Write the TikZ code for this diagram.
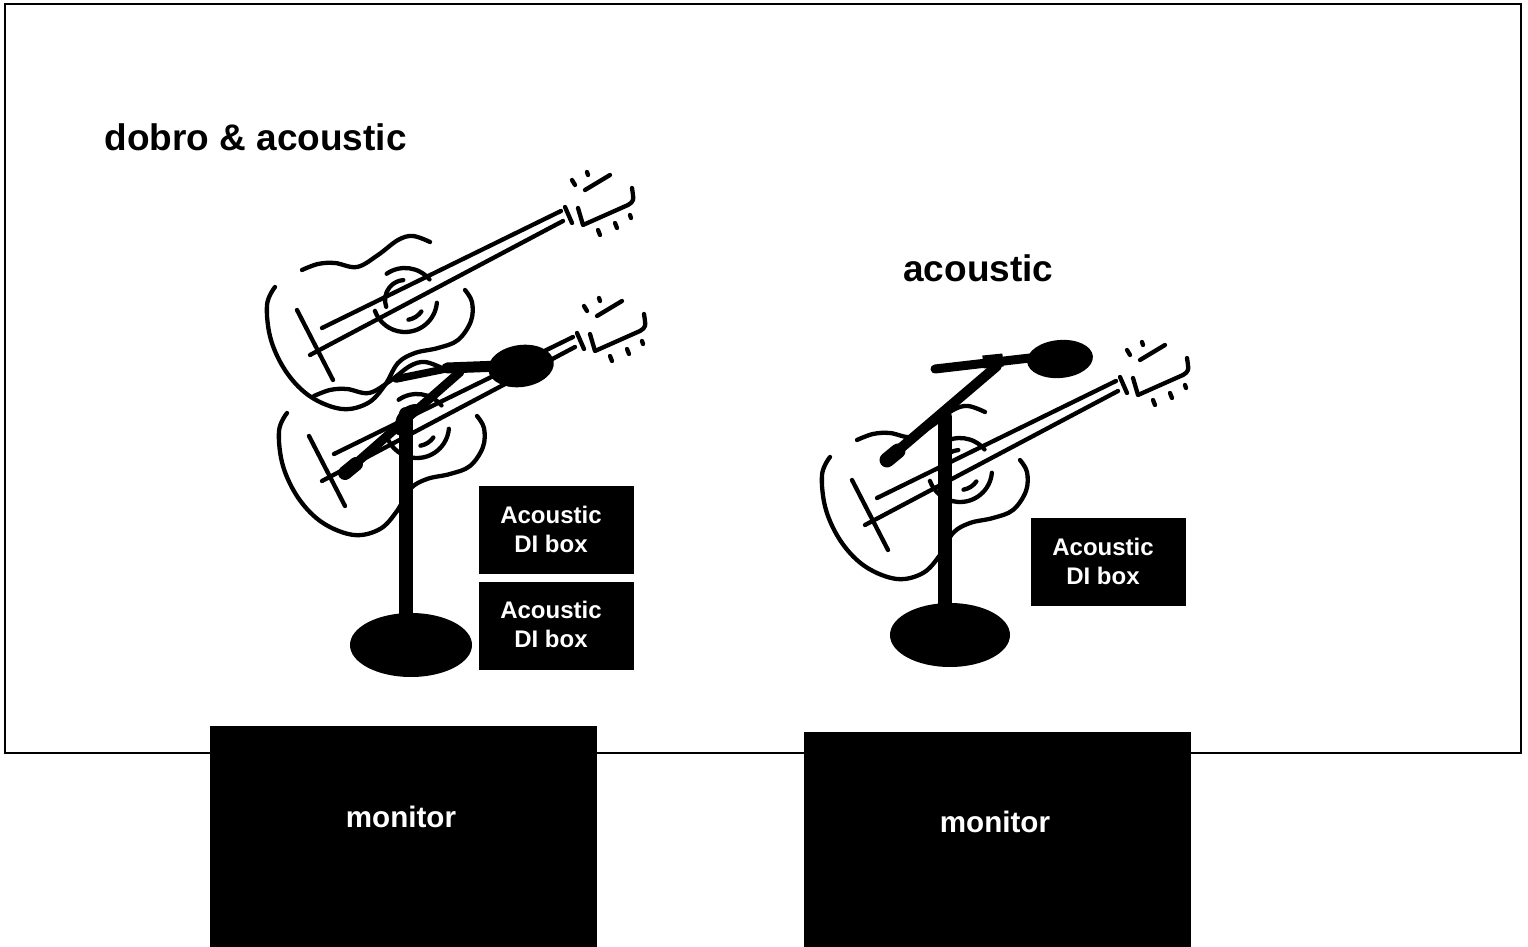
\documentclass[tikz,border=0pt]{standalone}
\usepackage{fontspec}
\setmainfont{Liberation Sans}
\tikzset{
  gline/.style={line width=2.15pt, line cap=round, line join=round},
  guitar/.pic={
    % body outline
    \draw[gline] plot[smooth, tension=0.6] coordinates {(275,287) (267,305) (271,340) (287,373) (311,397) (342,409) (368,403) (385,385) (398,363) (415,353) (438,348) (458,340) (471,321) (472,302) (465,290)};
    \draw[gline] plot[smooth, tension=0.6] coordinates {(302,270) (318,264) (335,263) (357,267) (378,255) (398,240) (413,236) (430,242)};
    % sound hole
    \draw[gline] (405,300) ++(235:32) arc[start angle=235, end angle=320, radius=32];
    \draw[gline] (405,300) ++(5:32) arc[start angle=5, end angle=160, radius=32];
    \draw[gline] (405,300) ++(160:20) arc[start angle=160, end angle=265, radius=20];
    \draw[gline] (405,300) ++(35:20) arc[start angle=35, end angle=80, radius=20];
    % neck
    \draw[gline] (322,328) -- (561,211);
    \draw[gline] (310,355) -- (563,221);
    % bridge
    \draw[gline] (297,310) -- (333,380);
    % nut and headstock
    \draw[gline] (565,207) -- (572,223);
    \draw[gline] (578,208) -- (583,225) -- (628,205) .. controls (634,201) .. (632,188);
    % tuning pegs
    \draw[gline] (587,172) -- (588,175);
    \draw[gline] (572,180) -- (575,185);
    \draw[gline] (585,190) -- (610,175);
    \draw[gline] (598,230) -- (600,235);
    \draw[gline] (615,223) -- (617,228);
    \draw[gline] (630,215) -- (631,218);
  },
  blackbox/.style={fill=black, draw=none, inner sep=0pt},
  dilabel/.style={text=white, font=\bfseries\fontsize{12}{14.5}\selectfont, align=center, inner sep=0pt},
  monlabel/.style={text=white, font=\bfseries\fontsize{14.8}{17}\selectfont, inner sep=0pt},
  title/.style={font=\bfseries\fontsize{18.5}{22}\selectfont, inner sep=0pt},
}
\begin{document}
\begin{tikzpicture}[x=0.5pt, y=-0.5pt]
\useasboundingbox (0,0) rectangle (1528,947);
\fill[white] (0,0) rectangle (1528,947);
% stage border
\draw[line width=1pt] (5,4) rectangle (1521,753);

% titles
\node[title, anchor=base west] (t1) at (104,151) {dobro \& acoustic};
\node[title, anchor=base west] (t2) at (903,282) {acoustic};

% guitars
\pic at (0,0) {guitar};
\pic at (12,126) {guitar};
\pic at (555,170) {guitar};

% left mic stand
\fill (411,645) ellipse [x radius=61, y radius=32];
\draw[line width=7pt, line cap=round] (406,625) -- (406,414);
\draw[line width=4.5pt, line cap=round] (346,472) -- (460,372);
\draw[line width=7pt, line cap=round] (345,473) -- (356,464);
\draw[line width=3.8pt, line cap=round] (396,379) -- (450,368);
\draw[line width=5.5pt, line cap=round] (447,368) -- (500,366);
\fill[rotate around={8:(521,366)}] (521,366) ellipse [x radius=33, y radius=21];

% right mic stand
\fill (950,635) ellipse [x radius=60, y radius=32];
\draw[line width=7pt, line cap=round] (945,615) -- (945,417);
\draw[line width=5pt, line cap=round] (888,459) -- (997,366);
\draw[line width=7.5pt, line cap=round] (887,460) -- (898,451);
\draw[line width=4.5pt, line cap=round] (935,369) -- (1030,358);
\draw[line width=6.5pt] (983,362) -- (1003,360);
\fill[rotate around={5:(1060,359)}] (1060,359) ellipse [x radius=33, y radius=19];

% DI boxes
\node[blackbox, minimum width=77.5pt, minimum height=44pt] (di1) at (556.5,530) {};
\node[dilabel] (di1t) at (551,529.5) {Acoustic\\DI box};
\node[blackbox, minimum width=77.5pt, minimum height=44pt] (di2) at (556.5,626) {};
\node[dilabel] (di2t) at (551,624.5) {Acoustic\\DI box};
\node[blackbox, minimum width=77.5pt, minimum height=44pt] (di3) at (1108.5,562) {};
\node[dilabel] (di3t) at (1103,561.5) {Acoustic\\DI box};

% monitors
\node[blackbox, minimum width=193.5pt, minimum height=110.5pt] (m1) at (403.5,836.5) {};
\node[monlabel, anchor=base] (m1t) at (401,827) {monitor};
\node[blackbox, minimum width=193.5pt, minimum height=107.5pt] (m2) at (997.5,839.5) {};
\node[monlabel, anchor=base] (m2t) at (995,832) {monitor};
\end{tikzpicture}
\end{document}
